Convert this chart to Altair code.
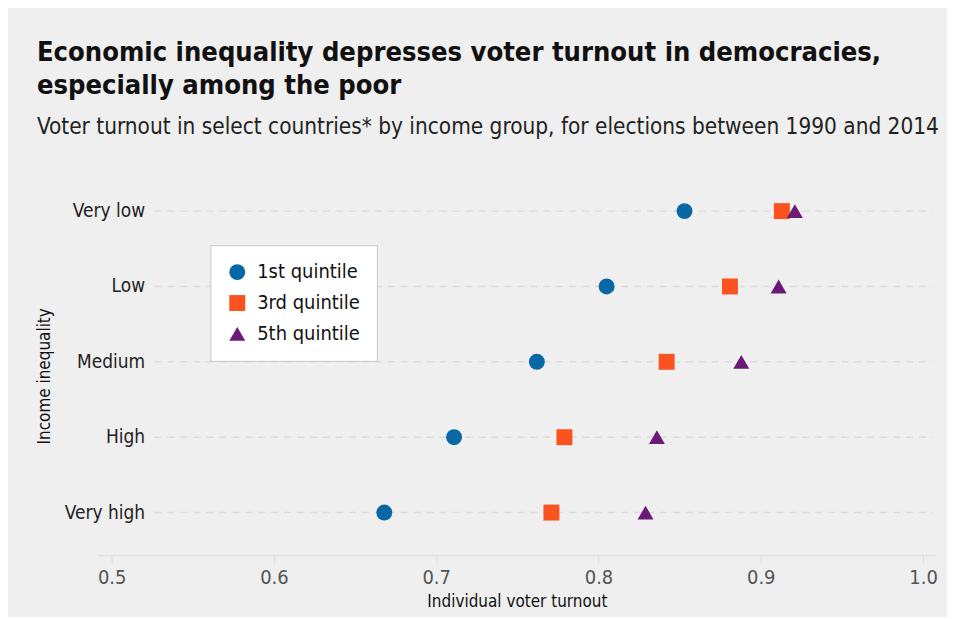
import altair as alt
import pandas as pd

inequality = ["Very low", "Low", "Medium", "High", "Very high"]
groups = ["1st quintile", "3rd quintile", "5th quintile"]
q1 = [0.853, 0.805, 0.762, 0.711, 0.668]
q3 = [0.913, 0.881, 0.842, 0.779, 0.771]
q5 = [0.921, 0.911, 0.888, 0.836, 0.829]
x_ticks = [0.5, 0.6, 0.7, 0.8, 0.9, 1.0]

rows = []
for g, vals in zip(groups, [q1, q3, q5]):
    for cat, v in zip(inequality, vals):
        rows.append({"Income inequality": cat, "group": g, "turnout": v})
df = pd.DataFrame(rows)
grid_df = pd.DataFrame({"Income inequality": inequality})

FONT = "DejaVu Sans Condensed, DejaVu Sans, sans-serif"
colors = ["#0868a6", "#fa531f", "#6c1a78"]
shapes = ["circle", "square", "triangle-up"]
sizes = [256, 256, 420]

grid = alt.Chart(grid_df).mark_rule(color="#dcdcdc", strokeWidth=1.5, strokeDash=[7, 6]).encode(
    x=alt.value(57), x2=alt.value(838),
    y=alt.Y("Income inequality:N", sort=inequality),
)

points = alt.Chart(df).mark_point(filled=True, opacity=1).encode(
    x=alt.X("turnout:Q", title="Individual voter turnout",
            scale=alt.Scale(domain=[0.4914, 1.008], nice=False, zero=False),
            axis=alt.Axis(values=x_ticks, format=".1f", grid=False, offset=5,
                          domainColor="#dcdcdc", tickColor="#dcdcdc", tickSize=8,
                          labelColor="#555555", labelFontSize=20, labelPadding=4,
                          titleFontSize=17, titleColor="#111111", titleFontWeight="normal",
                          titlePadding=6)),
    y=alt.Y("Income inequality:N", sort=inequality, title="Income inequality",
            scale=alt.Scale(paddingInner=0, paddingOuter=0),
            axis=alt.Axis(domain=False, ticks=False, offset=-47, labelPadding=0,
                          labelFontSize=19, labelColor="#222222",
                          titleFontSize=17, titleColor="#111111", titleFontWeight="normal",
                          titleX=-91, titleY=203)),
    color=alt.Color("group:N", sort=groups, title=None,
                    scale=alt.Scale(domain=groups, range=colors),
                    legend=alt.Legend(orient="none", legendX=113, legendY=72,
                                      fillColor="white", strokeColor="#c8c8c8",
                                      padding=17, labelFontSize=20, labelColor="#111111",
                                      labelOffset=10, rowPadding=11,
                                      symbolStrokeWidth=0)),
    shape=alt.Shape("group:N", sort=groups, title=None,
                    scale=alt.Scale(domain=groups, range=shapes)),
    size=alt.Size("group:N", sort=groups, title=None,
                  scale=alt.Scale(domain=groups, range=sizes)),
    order=alt.Order("group:N"),
)

chart = alt.layer(grid, points).properties(
    width=841, height=378,
    background="#efefef",
    padding={"left": 90, "top": 165, "right": 11, "bottom": 66},
    autosize=alt.AutoSizeParams(type="none"),
    title=alt.TitleParams(
        text=["Economic inequality depresses voter turnout in democracies,",
              "especially among the poor"],
        subtitle="Voter turnout in select countries* by income group, for elections between 1990 and 2014",
        anchor="start", frame="group", dx=-61, offset=34,
        fontSize=27.2, lineHeight=33, color="#111111", fontWeight="bold",
        subtitleFontSize=22.5, subtitleColor="#222222", subtitlePadding=16,
    ),
).configure(font=FONT).configure_view(stroke=None)

chart.save("out.html", embed_options={"renderer": "svg", "actions": False})
